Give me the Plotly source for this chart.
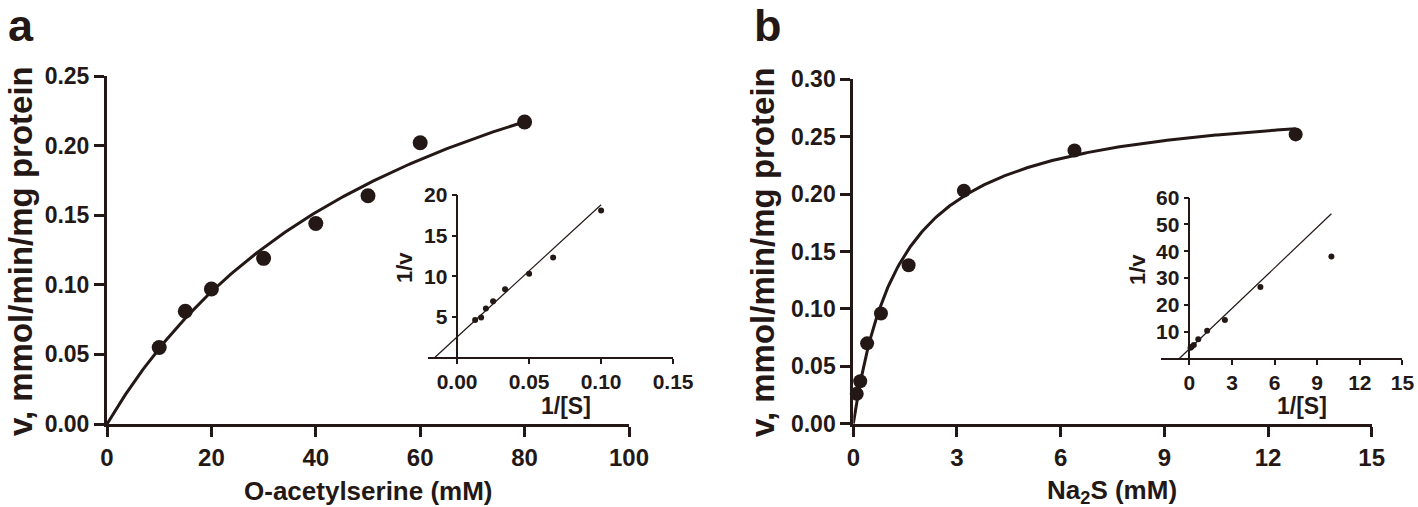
import numpy as np
import plotly.graph_objects as go

# ---------------- data ----------------
oas_mM = [10, 15, 20, 30, 40, 50, 60, 80]
v_oas = [0.055, 0.081, 0.097, 0.119, 0.144, 0.164, 0.202, 0.217]
inv_s_oas = [0.1, 0.0667, 0.05, 0.0333, 0.025, 0.02, 0.0167, 0.0125]
inv_v_oas = [18.1, 12.3, 10.3, 8.4, 6.9, 6.0, 4.9, 4.6]

na2s_mM = [0.1, 0.2, 0.4, 0.8, 1.6, 3.2, 6.4, 12.8]
v_na2s = [0.026, 0.037, 0.070, 0.096, 0.138, 0.203, 0.238, 0.252]
inv_s_na2s = [10, 5, 2.5, 1.25, 0.625, 0.3125, 0.156, 0.078]
inv_v_na2s = [38.0, 26.6, 14.3, 10.3, 7.1, 5.0, 4.3, 3.9]

# fitted parameters (Michaelis-Menten, Lineweaver-Burk)
vmax_oas, km_oas = 0.38, 60.0
vmax_na2s, km_na2s = 0.285, 1.4
lb_int_oas, lb_slope_oas = 2.5, 163.0
lb_int_na2s, lb_slope_na2s = 3.5, 5.05

main_x_ticks_a = [0, 20, 40, 60, 80, 100]
main_y_ticks_a = [0.0, 0.05, 0.10, 0.15, 0.20, 0.25]
inset_x_ticks_a = [0.0, 0.05, 0.10, 0.15]
inset_y_ticks_a = [5, 10, 15, 20]
main_x_ticks_b = [0, 3, 6, 9, 12, 15]
main_y_ticks_b = [0.0, 0.05, 0.10, 0.15, 0.20, 0.25, 0.30]
inset_x_ticks_b = [0, 3, 6, 9, 12, 15]
inset_y_ticks_b = [10, 20, 30, 40, 50, 60]

# ---------------- styling ----------------
W, H = 1418, 507
INK = "#231815"
FONT = "Liberation Sans, Arial, Helvetica, sans-serif"


def px(x):
    return x / W


def py(y):
    return 1 - y / H


fig = go.Figure()

# curves
xa = np.linspace(0, max(oas_mM), 200)
fig.add_trace(go.Scatter(x=xa, y=vmax_oas * xa / (km_oas + xa), mode="lines",
                         line=dict(color=INK, width=3), xaxis="x", yaxis="y",
                         hoverinfo="skip", cliponaxis=False))
fig.add_trace(go.Scatter(x=oas_mM, y=v_oas, mode="markers",
                         marker=dict(color=INK, size=15), xaxis="x", yaxis="y",
                         cliponaxis=False))

x0a = -lb_int_oas / lb_slope_oas
xl = np.array([x0a, max(inv_s_oas)])
fig.add_trace(go.Scatter(x=xl, y=lb_int_oas + lb_slope_oas * xl, mode="lines",
                         line=dict(color=INK, width=1.2), xaxis="x2", yaxis="y2",
                         cliponaxis=False))
fig.add_trace(go.Scatter(x=inv_s_oas, y=inv_v_oas, mode="markers",
                         marker=dict(color=INK, size=6), xaxis="x2", yaxis="y2",
                         cliponaxis=False))

xb = np.linspace(0, max(na2s_mM), 300)
fig.add_trace(go.Scatter(x=xb, y=vmax_na2s * xb / (km_na2s + xb), mode="lines",
                         line=dict(color=INK, width=3), xaxis="x3", yaxis="y3",
                         hoverinfo="skip", cliponaxis=False))
fig.add_trace(go.Scatter(x=na2s_mM, y=v_na2s, mode="markers",
                         marker=dict(color=INK, size=14), xaxis="x3", yaxis="y3",
                         cliponaxis=False))

x0b = -lb_int_na2s / lb_slope_na2s
xl = np.array([x0b, max(inv_s_na2s)])
fig.add_trace(go.Scatter(x=xl, y=lb_int_na2s + lb_slope_na2s * xl, mode="lines",
                         line=dict(color=INK, width=1.2), xaxis="x4", yaxis="y4",
                         cliponaxis=False))
fig.add_trace(go.Scatter(x=inv_s_na2s, y=inv_v_na2s, mode="markers",
                         marker=dict(color=INK, size=6), xaxis="x4", yaxis="y4",
                         cliponaxis=False))


def main_axis(domain, rng, ticks, fmt, anchor, size=24):
    return dict(domain=domain, range=rng, tickvals=ticks, tickformat=fmt,
                anchor=anchor, showline=True, linecolor=INK, linewidth=3,
                ticks="outside", ticklen=10, tickwidth=3, tickcolor=INK,
                showgrid=False, zeroline=False, automargin=False,
                tickfont=dict(family=FONT, size=size, color=INK, weight="bold"))


def inset_axis(domain, rng, ticks, fmt, anchor, position=None):
    d = dict(domain=domain, range=rng, tickvals=ticks, tickformat=fmt,
             showline=True, linecolor=INK, linewidth=1.5,
             ticks="outside", ticklen=5, tickwidth=1.5, tickcolor=INK,
             showgrid=False, zeroline=False, automargin=False,
             tickfont=dict(family=FONT, size=21, color=INK, weight="bold"))
    if position is None:
        d["anchor"] = anchor
    else:
        d["anchor"] = "free"
        d["position"] = position
    return d


layout = dict(
    width=W, height=H, autosize=False,
    margin=dict(l=0, r=0, t=0, b=0, pad=0),
    paper_bgcolor="white", plot_bgcolor="rgba(0,0,0,0)",
    showlegend=False,
    font=dict(family=FONT, color=INK),
    xaxis=main_axis([px(107), px(629)], [0, 100], main_x_ticks_a, "d", "y"),
    yaxis=main_axis([py(424), py(76)], [0, 0.25], main_y_ticks_a, ".2f", "x", 23),
    xaxis2=inset_axis([px(428.3), px(673.1)], [-0.02, 0.15], inset_x_ticks_a, ".2f", "y2"),
    yaxis2=inset_axis([py(357.3), py(195)], [0, 20], inset_y_ticks_a, "d", None, px(457.3)),
    xaxis3=main_axis([px(853.3), px(1371.7)], [0, 15], main_x_ticks_b, "d", "y3"),
    yaxis3=main_axis([py(423.7), py(79.3)], [0, 0.30], main_y_ticks_b, ".2f", "x3", 23),
    xaxis4=inset_axis([px(1161), px(1402.4)], [-2, 15], inset_x_ticks_b, "d", "y4"),
    yaxis4=inset_axis([py(358.3), py(197.7)], [0, 60], inset_y_ticks_b, "d", None, px(1189.3)),
)
fig.update_layout(**layout)


def ann(text, x, y, size, angle=0, xanchor="center", yanchor="middle"):
    fig.add_annotation(text=text, x=px(x), y=py(y), xref="paper", yref="paper",
                       showarrow=False, textangle=angle, xanchor=xanchor, yanchor=yanchor,
                       font=dict(family=FONT, size=size, color=INK, weight="bold"))


ann("a", 6, 25, 45, xanchor="left")
ann("b", 752, 25, 45, xanchor="left")
ann("v, mmol/min/mg protein", 20, 251, 33, angle=-90)
ann("v, mmol/min/mg protein", 762, 252, 33, angle=-90)
ann("O-acetylserine (mM)", 368, 491, 26)
ann("Na<sub>2</sub>S (mM)", 1112, 491, 26)
ann("1/v", 404, 268, 22, angle=-90)
ann("1/[S]", 566, 406, 23)
ann("1/v", 1137, 270, 22, angle=-90)
ann("1/[S]", 1302, 406, 23)

# remove the default page margin so the figure sits at the window's top-left corner
fig.write_html("out.html", config={"displayModeBar": False},
               post_script="document.body.style.margin='0';")
